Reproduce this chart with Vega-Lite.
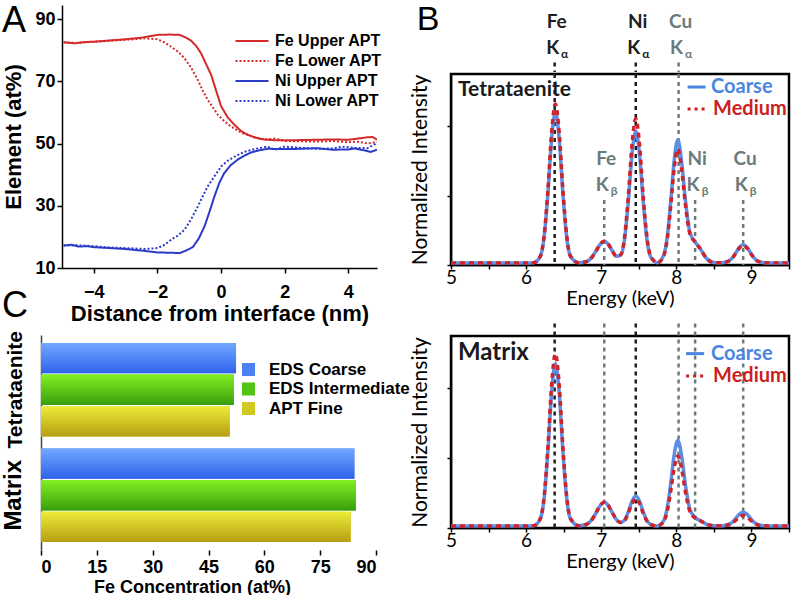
{
  "$schema": "https://vega.github.io/schema/vega-lite/v6.json",
  "padding": {"left": 0, "top": 3, "right": 0, "bottom": 0},
  "background": "white",
  "config": {
    "view": {"stroke": null},
    "axis": {"grid": false, "domainColor": "black", "domainWidth": 1.5, "tickColor": "black", "tickWidth": 1.5, "labelColor": "black", "labelFont": "Liberation Sans", "labelFontSize": 18, "labelFontWeight": "bold", "titleFont": "Liberation Sans", "titleFontSize": 22, "titleFontWeight": "bold", "titleColor": "black"},
    "legend": {"padding": 0}
  },
  "datasets": {
    "apt": [
      {"s": "Fe Upper APT", "x": -4.95, "v": 82.5}, {"s": "Fe Upper APT", "x": -4.6, "v": 82.2}, {"s": "Fe Upper APT", "x": -4.3, "v": 82.6}, {"s": "Fe Upper APT", "x": -4, "v": 82.7}, {"s": "Fe Upper APT", "x": -3.5, "v": 83.1}, {"s": "Fe Upper APT", "x": -3, "v": 83.5}, {"s": "Fe Upper APT", "x": -2.5, "v": 84.0}, {"s": "Fe Upper APT", "x": -2, "v": 84.9}, {"s": "Fe Upper APT", "x": -1.6, "v": 85.0}, {"s": "Fe Upper APT", "x": -1.3, "v": 84.9}, {"s": "Fe Upper APT", "x": -1.1, "v": 84.0}, {"s": "Fe Upper APT", "x": -0.94, "v": 83.0}, {"s": "Fe Upper APT", "x": -0.78, "v": 81.3}, {"s": "Fe Upper APT", "x": -0.63, "v": 79.0}, {"s": "Fe Upper APT", "x": -0.47, "v": 75.5}, {"s": "Fe Upper APT", "x": -0.31, "v": 72.0}, {"s": "Fe Upper APT", "x": -0.15, "v": 66.8}, {"s": "Fe Upper APT", "x": 0, "v": 62.0}, {"s": "Fe Upper APT", "x": 0.2, "v": 58.5}, {"s": "Fe Upper APT", "x": 0.42, "v": 56.0}, {"s": "Fe Upper APT", "x": 0.63, "v": 54.0}, {"s": "Fe Upper APT", "x": 0.84, "v": 52.8}, {"s": "Fe Upper APT", "x": 1.05, "v": 52.0}, {"s": "Fe Upper APT", "x": 1.26, "v": 51.4}, {"s": "Fe Upper APT", "x": 1.6, "v": 51.1}, {"s": "Fe Upper APT", "x": 2, "v": 51.0}, {"s": "Fe Upper APT", "x": 2.5, "v": 51.1}, {"s": "Fe Upper APT", "x": 3, "v": 51.2}, {"s": "Fe Upper APT", "x": 3.5, "v": 51.3}, {"s": "Fe Upper APT", "x": 4, "v": 51.2}, {"s": "Fe Upper APT", "x": 4.3, "v": 51.6}, {"s": "Fe Upper APT", "x": 4.6, "v": 52.0}, {"s": "Fe Upper APT", "x": 4.75, "v": 52.1}, {"s": "Fe Upper APT", "x": 4.9, "v": 51.3},
      {"s": "Fe Lower APT", "x": -4.95, "v": 82.5}, {"s": "Fe Lower APT", "x": -4.5, "v": 82.3}, {"s": "Fe Lower APT", "x": -4, "v": 82.7}, {"s": "Fe Lower APT", "x": -3.5, "v": 83.0}, {"s": "Fe Lower APT", "x": -3, "v": 83.3}, {"s": "Fe Lower APT", "x": -2.4, "v": 83.8}, {"s": "Fe Lower APT", "x": -2, "v": 83.5}, {"s": "Fe Lower APT", "x": -1.8, "v": 82.6}, {"s": "Fe Lower APT", "x": -1.57, "v": 81.1}, {"s": "Fe Lower APT", "x": -1.35, "v": 79.5}, {"s": "Fe Lower APT", "x": -1.15, "v": 77.4}, {"s": "Fe Lower APT", "x": -0.95, "v": 74.5}, {"s": "Fe Lower APT", "x": -0.73, "v": 70.4}, {"s": "Fe Lower APT", "x": -0.58, "v": 67.0}, {"s": "Fe Lower APT", "x": -0.42, "v": 64.0}, {"s": "Fe Lower APT", "x": -0.25, "v": 61.5}, {"s": "Fe Lower APT", "x": -0.1, "v": 59.2}, {"s": "Fe Lower APT", "x": 0.1, "v": 57.2}, {"s": "Fe Lower APT", "x": 0.31, "v": 55.5}, {"s": "Fe Lower APT", "x": 0.63, "v": 53.5}, {"s": "Fe Lower APT", "x": 1.05, "v": 52.0}, {"s": "Fe Lower APT", "x": 1.4, "v": 51.3}, {"s": "Fe Lower APT", "x": 1.7, "v": 51.6}, {"s": "Fe Lower APT", "x": 2, "v": 50.8}, {"s": "Fe Lower APT", "x": 2.5, "v": 50.7}, {"s": "Fe Lower APT", "x": 3, "v": 50.6}, {"s": "Fe Lower APT", "x": 3.5, "v": 50.8}, {"s": "Fe Lower APT", "x": 4, "v": 50.4}, {"s": "Fe Lower APT", "x": 4.3, "v": 50.6}, {"s": "Fe Lower APT", "x": 4.6, "v": 50.0}, {"s": "Fe Lower APT", "x": 4.9, "v": 50.5},
      {"s": "Ni Upper APT", "x": -4.95, "v": 17.2}, {"s": "Ni Upper APT", "x": -4.7, "v": 17.5}, {"s": "Ni Upper APT", "x": -4.5, "v": 16.9}, {"s": "Ni Upper APT", "x": -4.2, "v": 17.0}, {"s": "Ni Upper APT", "x": -4, "v": 16.7}, {"s": "Ni Upper APT", "x": -3.5, "v": 16.4}, {"s": "Ni Upper APT", "x": -3, "v": 16.1}, {"s": "Ni Upper APT", "x": -2.5, "v": 15.6}, {"s": "Ni Upper APT", "x": -2, "v": 15.0}, {"s": "Ni Upper APT", "x": -1.6, "v": 14.9}, {"s": "Ni Upper APT", "x": -1.3, "v": 14.8}, {"s": "Ni Upper APT", "x": -1.1, "v": 15.6}, {"s": "Ni Upper APT", "x": -0.89, "v": 16.7}, {"s": "Ni Upper APT", "x": -0.7, "v": 19.5}, {"s": "Ni Upper APT", "x": -0.52, "v": 23.4}, {"s": "Ni Upper APT", "x": -0.36, "v": 28.2}, {"s": "Ni Upper APT", "x": -0.21, "v": 33.0}, {"s": "Ni Upper APT", "x": -0.05, "v": 37.5}, {"s": "Ni Upper APT", "x": 0.1, "v": 40.5}, {"s": "Ni Upper APT", "x": 0.3, "v": 43.0}, {"s": "Ni Upper APT", "x": 0.52, "v": 44.8}, {"s": "Ni Upper APT", "x": 0.73, "v": 46.1}, {"s": "Ni Upper APT", "x": 0.94, "v": 47.1}, {"s": "Ni Upper APT", "x": 1.2, "v": 47.8}, {"s": "Ni Upper APT", "x": 1.46, "v": 48.3}, {"s": "Ni Upper APT", "x": 2, "v": 48.2}, {"s": "Ni Upper APT", "x": 2.5, "v": 48.3}, {"s": "Ni Upper APT", "x": 3, "v": 48.5}, {"s": "Ni Upper APT", "x": 3.5, "v": 48.0}, {"s": "Ni Upper APT", "x": 4, "v": 48.1}, {"s": "Ni Upper APT", "x": 4.2, "v": 48.4}, {"s": "Ni Upper APT", "x": 4.5, "v": 47.8}, {"s": "Ni Upper APT", "x": 4.7, "v": 47.3}, {"s": "Ni Upper APT", "x": 4.9, "v": 48.0},
      {"s": "Ni Lower APT", "x": -4.95, "v": 17.2}, {"s": "Ni Lower APT", "x": -4.5, "v": 17.3}, {"s": "Ni Lower APT", "x": -4, "v": 17.0}, {"s": "Ni Lower APT", "x": -3.5, "v": 16.6}, {"s": "Ni Lower APT", "x": -3, "v": 16.4}, {"s": "Ni Lower APT", "x": -2.4, "v": 16.1}, {"s": "Ni Lower APT", "x": -2, "v": 16.4}, {"s": "Ni Lower APT", "x": -1.8, "v": 17.3}, {"s": "Ni Lower APT", "x": -1.57, "v": 19.1}, {"s": "Ni Lower APT", "x": -1.35, "v": 20.5}, {"s": "Ni Lower APT", "x": -1.15, "v": 22.3}, {"s": "Ni Lower APT", "x": -0.95, "v": 25.5}, {"s": "Ni Lower APT", "x": -0.73, "v": 29.8}, {"s": "Ni Lower APT", "x": -0.58, "v": 33.0}, {"s": "Ni Lower APT", "x": -0.42, "v": 36.2}, {"s": "Ni Lower APT", "x": -0.2, "v": 39.6}, {"s": "Ni Lower APT", "x": 0, "v": 42.6}, {"s": "Ni Lower APT", "x": 0.2, "v": 44.4}, {"s": "Ni Lower APT", "x": 0.42, "v": 45.8}, {"s": "Ni Lower APT", "x": 0.75, "v": 47.4}, {"s": "Ni Lower APT", "x": 1.1, "v": 48.3}, {"s": "Ni Lower APT", "x": 1.45, "v": 49.0}, {"s": "Ni Lower APT", "x": 1.7, "v": 48.0}, {"s": "Ni Lower APT", "x": 2, "v": 49.0}, {"s": "Ni Lower APT", "x": 2.5, "v": 48.6}, {"s": "Ni Lower APT", "x": 3, "v": 48.3}, {"s": "Ni Lower APT", "x": 3.5, "v": 48.4}, {"s": "Ni Lower APT", "x": 3.8, "v": 49.0}, {"s": "Ni Lower APT", "x": 4.2, "v": 48.6}, {"s": "Ni Lower APT", "x": 4.6, "v": 48.5}, {"s": "Ni Lower APT", "x": 4.9, "v": 50.1}
    ],
    "bars": [
      {"g": "Tetrataenite", "s": "EDS Coarse", "v": 52.4},
      {"g": "Tetrataenite", "s": "EDS Intermediate", "v": 51.8},
      {"g": "Tetrataenite", "s": "APT Fine", "v": 50.7},
      {"g": "Matrix", "s": "EDS Coarse", "v": 84.2},
      {"g": "Matrix", "s": "EDS Intermediate", "v": 84.6},
      {"g": "Matrix", "s": "APT Fine", "v": 83.2}
    ],
    "spec": [
      {"e": 5.0, "tc": 0.012, "tm": 0.012, "mc": 0.012, "mm": 0.012},
      {"e": 5.5, "tc": 0.012, "tm": 0.012, "mc": 0.012, "mm": 0.012},
      {"e": 6.0, "tc": 0.012, "tm": 0.012, "mc": 0.012, "mm": 0.012},
      {"e": 6.1, "tc": 0.013, "tm": 0.013, "mc": 0.013, "mm": 0.013},
      {"e": 6.19, "tc": 0.050, "tm": 0.052, "mc": 0.053, "mm": 0.055},
      {"e": 6.24, "tc": 0.162, "tm": 0.169, "mc": 0.172, "mm": 0.181},
      {"e": 6.29, "tc": 0.410, "tm": 0.431, "mc": 0.438, "mm": 0.463},
      {"e": 6.34, "tc": 0.728, "tm": 0.765, "mc": 0.777, "mm": 0.823},
      {"e": 6.39, "tc": 0.882, "tm": 0.927, "mc": 0.942, "mm": 0.997},
      {"e": 6.44, "tc": 0.728, "tm": 0.765, "mc": 0.777, "mm": 0.823},
      {"e": 6.49, "tc": 0.410, "tm": 0.431, "mc": 0.438, "mm": 0.463},
      {"e": 6.54, "tc": 0.162, "tm": 0.169, "mc": 0.172, "mm": 0.181},
      {"e": 6.59, "tc": 0.050, "tm": 0.052, "mc": 0.053, "mm": 0.055},
      {"e": 6.7, "tc": 0.013, "tm": 0.013, "mc": 0.013, "mm": 0.013},
      {"e": 6.8, "tc": 0.019, "tm": 0.019, "mc": 0.020, "mm": 0.020},
      {"e": 6.88, "tc": 0.047, "tm": 0.047, "mc": 0.050, "mm": 0.050},
      {"e": 6.93, "tc": 0.080, "tm": 0.080, "mc": 0.086, "mm": 0.086},
      {"e": 6.98, "tc": 0.116, "tm": 0.116, "mc": 0.125, "mm": 0.125},
      {"e": 7.04, "tc": 0.137, "tm": 0.137, "mc": 0.147, "mm": 0.147},
      {"e": 7.09, "tc": 0.122, "tm": 0.122, "mc": 0.131, "mm": 0.131},
      {"e": 7.14, "tc": 0.088, "tm": 0.088, "mc": 0.094, "mm": 0.094},
      {"e": 7.2, "tc": 0.051, "tm": 0.051, "mc": 0.050, "mm": 0.050},
      {"e": 7.26, "tc": 0.057, "tm": 0.060, "mc": 0.032, "mm": 0.031},
      {"e": 7.31, "tc": 0.146, "tm": 0.158, "mc": 0.045, "mm": 0.042},
      {"e": 7.36, "tc": 0.361, "tm": 0.393, "mc": 0.092, "mm": 0.084},
      {"e": 7.41, "tc": 0.637, "tm": 0.695, "mc": 0.154, "mm": 0.140},
      {"e": 7.46, "tc": 0.772, "tm": 0.842, "mc": 0.184, "mm": 0.167},
      {"e": 7.51, "tc": 0.637, "tm": 0.695, "mc": 0.154, "mm": 0.140},
      {"e": 7.56, "tc": 0.360, "tm": 0.392, "mc": 0.091, "mm": 0.083},
      {"e": 7.61, "tc": 0.143, "tm": 0.155, "mc": 0.042, "mm": 0.039},
      {"e": 7.66, "tc": 0.045, "tm": 0.049, "mc": 0.020, "mm": 0.019},
      {"e": 7.75, "tc": 0.013, "tm": 0.013, "mc": 0.012, "mm": 0.012},
      {"e": 7.83, "tc": 0.055, "tm": 0.051, "mc": 0.041, "mm": 0.036},
      {"e": 7.88, "tc": 0.165, "tm": 0.153, "mc": 0.118, "mm": 0.098},
      {"e": 7.93, "tc": 0.389, "tm": 0.360, "mc": 0.272, "mm": 0.224},
      {"e": 7.97, "tc": 0.596, "tm": 0.551, "mc": 0.415, "mm": 0.341},
      {"e": 8.02, "tc": 0.722, "tm": 0.667, "mc": 0.502, "mm": 0.412},
      {"e": 8.07, "tc": 0.596, "tm": 0.551, "mc": 0.415, "mm": 0.341},
      {"e": 8.12, "tc": 0.376, "tm": 0.351, "mc": 0.250, "mm": 0.209},
      {"e": 8.18, "tc": 0.189, "tm": 0.182, "mc": 0.108, "mm": 0.096},
      {"e": 8.25, "tc": 0.133, "tm": 0.133, "mc": 0.060, "mm": 0.058},
      {"e": 8.32, "tc": 0.093, "tm": 0.093, "mc": 0.042, "mm": 0.042},
      {"e": 8.4, "tc": 0.039, "tm": 0.039, "mc": 0.022, "mm": 0.022},
      {"e": 8.5, "tc": 0.014, "tm": 0.014, "mc": 0.013, "mm": 0.013},
      {"e": 8.6, "tc": 0.013, "tm": 0.013, "mc": 0.012, "mm": 0.012},
      {"e": 8.69, "tc": 0.021, "tm": 0.021, "mc": 0.019, "mm": 0.017},
      {"e": 8.74, "tc": 0.038, "tm": 0.037, "mc": 0.031, "mm": 0.027},
      {"e": 8.79, "tc": 0.069, "tm": 0.066, "mc": 0.054, "mm": 0.044},
      {"e": 8.84, "tc": 0.102, "tm": 0.098, "mc": 0.079, "mm": 0.063},
      {"e": 8.89, "tc": 0.117, "tm": 0.112, "mc": 0.090, "mm": 0.072},
      {"e": 8.94, "tc": 0.102, "tm": 0.098, "mc": 0.079, "mm": 0.063},
      {"e": 8.99, "tc": 0.069, "tm": 0.066, "mc": 0.054, "mm": 0.044},
      {"e": 9.04, "tc": 0.038, "tm": 0.037, "mc": 0.031, "mm": 0.027},
      {"e": 9.1, "tc": 0.019, "tm": 0.019, "mc": 0.017, "mm": 0.016},
      {"e": 9.2, "tc": 0.012, "tm": 0.012, "mc": 0.012, "mm": 0.012},
      {"e": 9.5, "tc": 0.012, "tm": 0.012, "mc": 0.012, "mm": 0.012}
    ],
    "klines": [
      {"e": 6.38, "el": "Fe", "sub": "α", "c": "k"},
      {"e": 7.46, "el": "Ni", "sub": "α", "c": "k"},
      {"e": 8.03, "el": "Cu", "sub": "α", "c": "g"},
      {"e": 7.04, "el": "Fe", "sub": "β", "c": "g"},
      {"e": 8.25, "el": "Ni", "sub": "β", "c": "g"},
      {"e": 8.89, "el": "Cu", "sub": "β", "c": "g"}
    ]
  },
  "resolve": {"scale": {"color": "independent", "strokeDash": "independent"}, "legend": {"color": "independent", "strokeDash": "independent"}},
  "spacing": -2,
  "hconcat": [
    {
      "spacing": 6,
      "resolve": {"scale": {"color": "independent", "strokeDash": "independent"}, "legend": {"color": "independent", "strokeDash": "independent"}},
      "vconcat": [
        {
          "spacing": 0,
          "hconcat": [
            {"width": 2, "height": 1, "data": {"values": []}, "mark": "point", "encoding": {}},
            {
              "width": 315,
              "height": 263,
              "layer": [
                {
                  "data": {"name": "apt"},
                  "mark": {"type": "line", "strokeWidth": 2, "clip": true},
                  "encoding": {
                    "x": {"field": "x", "type": "quantitative", "scale": {"domain": [-5, 4.9], "nice": false, "zero": false}, "title": "Distance from interface (nm)",
                      "axis": {"values": [-4, -2, 0, 2, 4], "tickSize": 5, "labelPadding": 10, "titlePadding": 2}},
                    "y": {"field": "v", "type": "quantitative", "scale": {"domain": [10, 94.5], "nice": false, "zero": false}, "title": "Element (at%)",
                      "axis": {"values": [10, 20, 30, 40, 50, 60, 70, 80, 90], "tickSize": 5, "labelPadding": 2, "titlePadding": 9}},
                    "color": {"field": "s", "type": "nominal",
                      "scale": {"domain": ["Fe Upper APT", "Fe Lower APT", "Ni Upper APT", "Ni Lower APT"], "range": ["#d42a2a", "#d42a2a", "#2a3bc8", "#2a3bc8"]},
                      "legend": {"title": null, "orient": "none", "legendX": 244, "legendY": 28, "symbolType": "M-3,0H3", "symbolSize": 121, "symbolStrokeWidth": 2, "labelFont": "Liberation Sans", "labelFontSize": 16, "labelFontWeight": "bold", "labelColor": "black", "labelOffset": 15, "rowPadding": 4}},
                    "strokeDash": {"field": "s", "type": "nominal",
                      "scale": {"domain": ["Fe Upper APT", "Fe Lower APT", "Ni Upper APT", "Ni Lower APT"], "range": [[1, 0], [2, 2], [1, 0], [2, 2]]},
                      "legend": {"title": null, "orient": "none", "legendX": 244, "legendY": 28, "symbolType": "M-3,0H3", "symbolSize": 121, "symbolStrokeWidth": 2, "labelFont": "Liberation Sans", "labelFontSize": 16, "labelFontWeight": "bold", "labelColor": "black", "labelOffset": 15, "rowPadding": 4}}
                  }
                },
                {
                  "data": {"values": [{"x": -6.508, "v": 89.2, "t": "A"}, {"x": -6.477, "v": -2.2, "t": "C"}]},
                  "mark": {"type": "text", "fontSize": 36, "font": "Liberation Sans", "color": "black", "clip": false},
                  "encoding": {
                    "x": {"field": "x", "type": "quantitative", "scale": {"domain": [-5, 4.9], "nice": false, "zero": false}, "title": "Distance from interface (nm)"},
                    "y": {"field": "v", "type": "quantitative", "scale": {"domain": [10, 94.5], "nice": false, "zero": false}, "title": "Element (at%)"},
                    "text": {"field": "t"}
                  }
                }
              ]
            }
          ]
        },
        {
          "spacing": 0,
          "hconcat": [
            {"width": 1, "height": 1, "data": {"values": []}, "mark": "point", "encoding": {}},
            {
              "width": 335,
              "height": 215,
              "data": {"name": "bars"},
              "encoding": {
                "y": {"field": "g", "type": "nominal", "sort": ["Tetrataenite", "Matrix"], "scale": {"paddingInner": 0.113, "paddingOuter": 0.075},
                  "axis": {"title": null, "labelAngle": -90, "labelAlign": "center", "labelBaseline": "bottom", "ticks": false, "labelPadding": 16,
                    "labelFontSize": {"condition": {"test": "datum.value === 'Matrix'", "value": 24}, "value": 21}, "domainColor": "#444", "domainWidth": 1.5}},
                "yOffset": {"field": "s", "type": "nominal", "sort": ["EDS Coarse", "EDS Intermediate", "APT Fine"], "scale": {"paddingInner": 0.04}},
                "x": {"field": "v", "type": "quantitative", "scale": {"domain": [0, 90], "nice": false}, "title": "Fe Concentration (at%)",
                  "axis": {"values": [0, 15, 30, 45, 60, 75, 90], "domain": false, "tickSize": 5, "labelPadding": 3, "labelFontSize": 18, "titleFontSize": 18, "titlePadding": 2, "titleX": 151, "titleAnchor": "middle"}}
              },
              "layer": [
                {
                  "mark": {"type": "bar"},
                  "encoding": {
                    "color": {"field": "s", "type": "nominal", "sort": ["EDS Coarse", "EDS Intermediate", "APT Fine"],
                      "scale": {"domain": ["EDS Coarse", "EDS Intermediate", "APT Fine"], "range": ["#4a80f0", "#52c414", "#d2c822"]},
                      "legend": {"title": null, "orient": "none", "legendX": 240, "legendY": 26, "symbolType": "square", "symbolSize": 170, "symbolStrokeWidth": 0, "symbolOpacity": 1, "labelFont": "Liberation Sans", "labelFontSize": 17, "labelFontWeight": "bold", "labelColor": "black", "labelOffset": 12, "rowPadding": 1.5}}
                  }
                },
                {
                  "transform": [{"filter": "datum.s === 'EDS Coarse'"}],
                  "mark": {"type": "bar", "color": {"gradient": "linear", "x1": 0, "y1": 0, "x2": 0, "y2": 1, "stops": [{"offset": 0, "color": "#72a8ff"}, {"offset": 1, "color": "#2f62ea"}]}}
                },
                {
                  "transform": [{"filter": "datum.s === 'EDS Intermediate'"}],
                  "mark": {"type": "bar", "color": {"gradient": "linear", "x1": 0, "y1": 0, "x2": 0, "y2": 1, "stops": [{"offset": 0, "color": "#82f024"}, {"offset": 1, "color": "#389e0c"}]}}
                },
                {
                  "transform": [{"filter": "datum.s === 'APT Fine'"}],
                  "mark": {"type": "bar", "color": {"gradient": "linear", "x1": 0, "y1": 0, "x2": 0, "y2": 1, "stops": [{"offset": 0, "color": "#ecec38"}, {"offset": 1, "color": "#b69e12"}]}}
                }
              ]
            }
          ]
        }
      ]
    },
    {
      "spacing": -3,
      "vconcat": [
        {
          "width": 338,
          "height": 67,
          "data": {"name": "klines"},
          "encoding": {
            "x": {"field": "e", "type": "quantitative", "scale": {"domain": [5, 9.5], "nice": false, "zero": false}, "axis": null}
          },
          "layer": [
            {
              "transform": [{"filter": "datum.sub === 'α'"}],
              "mark": {"type": "rule", "strokeDash": [4, 4], "strokeWidth": 2.5},
              "encoding": {
                "y": {"datum": 1.155, "type": "quantitative", "scale": {"domain": [1.1, 1.485], "nice": false, "zero": false}, "axis": null},
                "y2": {"datum": 1.1},
                "color": {"field": "c", "type": "nominal", "scale": {"domain": ["k", "g"], "range": ["#1e1e1e", "#6b7a7a"]}, "legend": null}
              }
            },
            {
              "transform": [{"filter": "datum.sub === 'α'"}],
              "mark": {"type": "text", "font": "Lato", "fontSize": 19, "fontWeight": "bold", "dx": 2},
              "encoding": {
                "y": {"datum": 1.389, "type": "quantitative", "scale": {"domain": [1.1, 1.485], "nice": false, "zero": false}, "axis": null},
                "text": {"field": "el"},
                "color": {"field": "c", "type": "nominal", "scale": {"domain": ["k", "g"], "range": ["#1e1e1e", "#6b7a7a"]}, "legend": null}
              }
            },
            {
              "transform": [{"filter": "datum.sub === 'α'"}],
              "mark": {"type": "text", "text": "K", "font": "Lato", "fontSize": 19, "fontWeight": "bold", "dx": -2},
              "encoding": {
                "y": {"datum": 1.236, "type": "quantitative", "scale": {"domain": [1.1, 1.485], "nice": false, "zero": false}, "axis": null},
                "color": {"field": "c", "type": "nominal", "scale": {"domain": ["k", "g"], "range": ["#1e1e1e", "#6b7a7a"]}, "legend": null}
              }
            },
            {
              "transform": [{"filter": "datum.sub === 'α'"}],
              "mark": {"type": "text", "font": "Lato", "fontSize": 12, "fontWeight": "bold", "dx": 10, "dy": 6},
              "encoding": {
                "y": {"datum": 1.236, "type": "quantitative", "scale": {"domain": [1.1, 1.485], "nice": false, "zero": false}, "axis": null},
                "text": {"field": "sub"},
                "color": {"field": "c", "type": "nominal", "scale": {"domain": ["k", "g"], "range": ["#1e1e1e", "#6b7a7a"]}, "legend": null}
              }
            },
            {
              "data": {"values": [{"e": 4.694, "t": "B"}]},
              "mark": {"type": "text", "font": "Liberation Sans", "fontSize": 34, "color": "black", "clip": false},
              "encoding": {
                "y": {"datum": 1.398, "type": "quantitative", "scale": {"domain": [1.1, 1.485], "nice": false, "zero": false}, "axis": null},
                "text": {"field": "t"}
              }
            }
          ]
        },
        {
          "spacing": 11,
          "vconcat": [
            {
              "width": 338,
              "height": 191,
              "view": {"stroke": "black", "strokeWidth": 2.5},
              "encoding": {
                "x": {"field": "e", "type": "quantitative", "scale": {"domain": [5, 9.5], "nice": false, "zero": false}, "title": "Energy (keV)",
                  "axis": {"values": [5, 5.5, 6, 6.5, 7, 7.5, 8, 8.5, 9, 9.5], "labelExpr": "datum.value % 1 === 0 ? '' + datum.value : ''", "labelFlush": false, "labelOverlap": false, "tickSize": 4, "labelFont": "Lato", "labelFontSize": 19, "labelFontWeight": "normal", "labelPadding": -1, "titleFont": "Lato", "titleFontSize": 20, "titleFontWeight": "normal", "titlePadding": 1}}
              },
              "layer": [
                {
                  "data": {"name": "klines"},
                  "transform": [{"filter": "datum.sub === 'α'"}],
                  "mark": {"type": "rule", "strokeDash": [4, 4], "strokeWidth": 2.5},
                  "encoding": {
                    "y": {"datum": 1.1, "type": "quantitative", "scale": {"domain": [0, 1.1], "nice": false, "zero": false}, "title": "Normalized Intensity",
                      "axis": {"labels": false, "values": [0, 0.1, 0.2, 0.3, 0.4, 0.5, 0.6, 0.7, 0.8, 0.9, 1.0], "tickSize": 4, "titleFont": "Lato", "titleFontSize": 21, "titleFontWeight": "normal", "titlePadding": 16}},
                    "y2": {"datum": 0},
                    "color": {"field": "c", "type": "nominal", "scale": {"domain": ["k", "g"], "range": ["#1e1e1e", "#6b7a7a"]}, "legend": null}
                  }
                },
                {
                  "data": {"name": "klines"},
                  "transform": [{"filter": "datum.sub === 'β'"}],
                  "mark": {"type": "rule", "strokeDash": [4, 4], "strokeWidth": 2.5},
                  "encoding": {
                    "y": {"datum": 0.375, "type": "quantitative", "scale": {"domain": [0, 1.1], "nice": false, "zero": false}, "title": "Normalized Intensity"},
                    "y2": {"datum": 0},
                    "color": {"field": "c", "type": "nominal", "scale": {"domain": ["k", "g"], "range": ["#1e1e1e", "#6b7a7a"]}, "legend": null}
                  }
                },
                {
                  "data": {"name": "spec"},
                  "mark": {"type": "line", "color": "#5b8fe6", "strokeWidth": 3.5, "interpolate": "monotone"},
                  "encoding": {"y": {"field": "tc", "type": "quantitative", "scale": {"domain": [0, 1.1], "nice": false, "zero": false}, "title": "Normalized Intensity"}}
                },
                {
                  "data": {"name": "spec"},
                  "mark": {"type": "line", "color": "#d0232a", "strokeWidth": 3.5, "strokeDash": [5, 4], "interpolate": "monotone"},
                  "encoding": {"y": {"field": "tm", "type": "quantitative", "scale": {"domain": [0, 1.1], "nice": false, "zero": false}, "title": "Normalized Intensity"}}
                },
                {
                  "data": {"name": "klines"},
                  "transform": [{"filter": "datum.sub === 'β'"}],
                  "mark": {"type": "text", "font": "Lato", "fontSize": 19, "fontWeight": "bold", "dx": 2},
                  "encoding": {
                    "y": {"datum": 0.611, "type": "quantitative", "scale": {"domain": [0, 1.1], "nice": false, "zero": false}, "title": "Normalized Intensity"},
                    "text": {"field": "el"},
                    "color": {"field": "c", "type": "nominal", "scale": {"domain": ["k", "g"], "range": ["#1e1e1e", "#6b7a7a"]}, "legend": null}
                  }
                },
                {
                  "data": {"name": "klines"},
                  "transform": [{"filter": "datum.sub === 'β'"}],
                  "mark": {"type": "text", "text": "K", "font": "Lato", "fontSize": 19, "fontWeight": "bold", "dx": -2},
                  "encoding": {
                    "y": {"datum": 0.461, "type": "quantitative", "scale": {"domain": [0, 1.1], "nice": false, "zero": false}, "title": "Normalized Intensity"},
                    "color": {"field": "c", "type": "nominal", "scale": {"domain": ["k", "g"], "range": ["#1e1e1e", "#6b7a7a"]}, "legend": null}
                  }
                },
                {
                  "data": {"name": "klines"},
                  "transform": [{"filter": "datum.sub === 'β'"}],
                  "mark": {"type": "text", "font": "Lato", "fontSize": 12, "fontWeight": "bold", "dx": 10, "dy": 6},
                  "encoding": {
                    "y": {"datum": 0.461, "type": "quantitative", "scale": {"domain": [0, 1.1], "nice": false, "zero": false}, "title": "Normalized Intensity"},
                    "text": {"field": "sub"},
                    "color": {"field": "c", "type": "nominal", "scale": {"domain": ["k", "g"], "range": ["#1e1e1e", "#6b7a7a"]}, "legend": null}
                  }
                },
                {
                  "data": {"values": [{"e": 5.093, "t": "Tetrataenite"}]},
                  "mark": {"type": "text", "font": "Lato", "fontSize": 21, "fontWeight": "bold", "align": "left", "color": "#1a1a1a"},
                  "encoding": {
                    "y": {"datum": 1.007, "type": "quantitative", "scale": {"domain": [0, 1.1], "nice": false, "zero": false}, "title": "Normalized Intensity"},
                    "text": {"field": "t"}
                  }
                },
                {
                  "data": {"values": [{"e": 8.462, "t": "Coarse"}]},
                  "mark": {"type": "text", "font": "Lato", "fontSize": 20, "fontWeight": "bold", "align": "left", "color": "#4a86e0"},
                  "encoding": {
                    "y": {"datum": 1.025, "type": "quantitative", "scale": {"domain": [0, 1.1], "nice": false, "zero": false}, "title": "Normalized Intensity"},
                    "text": {"field": "t"}
                  }
                },
                {
                  "data": {"values": [{"e": 8.489, "t": "Medium"}]},
                  "mark": {"type": "text", "font": "Lato", "fontSize": 20, "fontWeight": "bold", "align": "left", "color": "#cc1f1f"},
                  "encoding": {
                    "y": {"datum": 0.898, "type": "quantitative", "scale": {"domain": [0, 1.1], "nice": false, "zero": false}, "title": "Normalized Intensity"},
                    "text": {"field": "t"}
                  }
                },
                {
                  "data": {"values": [{"e": 8.15, "e2": 8.39}]},
                  "mark": {"type": "rule", "color": "#4a86e0", "strokeWidth": 3},
                  "encoding": {
                    "x2": {"field": "e2"},
                    "y": {"datum": 1.025, "type": "quantitative", "scale": {"domain": [0, 1.1], "nice": false, "zero": false}, "title": "Normalized Intensity"}
                  }
                },
                {
                  "data": {"values": [{"e": 8.15, "e2": 8.39}]},
                  "mark": {"type": "rule", "color": "#cc1f1f", "strokeWidth": 3, "strokeDash": [3, 4]},
                  "encoding": {
                    "x2": {"field": "e2"},
                    "y": {"datum": 0.898, "type": "quantitative", "scale": {"domain": [0, 1.1], "nice": false, "zero": false}, "title": "Normalized Intensity"}
                  }
                }
              ]
            },
            {
              "width": 338,
              "height": 192,
              "view": {"stroke": "black", "strokeWidth": 2.5},
              "encoding": {
                "x": {"field": "e", "type": "quantitative", "scale": {"domain": [5, 9.5], "nice": false, "zero": false}, "title": "Energy (keV)",
                  "axis": {"values": [5, 5.5, 6, 6.5, 7, 7.5, 8, 8.5, 9, 9.5], "labelExpr": "datum.value % 1 === 0 ? '' + datum.value : ''", "labelFlush": false, "labelOverlap": false, "tickSize": 4, "labelFont": "Lato", "labelFontSize": 19, "labelFontWeight": "normal", "labelPadding": -1, "titleFont": "Lato", "titleFontSize": 20, "titleFontWeight": "normal", "titlePadding": 1}}
              },
              "layer": [
                {
                  "data": {"name": "klines"},
                  "mark": {"type": "rule", "strokeDash": [4, 4], "strokeWidth": 2.5, "clip": false},
                  "encoding": {
                    "y": {"datum": 1.171, "type": "quantitative", "scale": {"domain": [0, 1.1], "nice": false, "zero": false}, "title": "Normalized Intensity",
                      "axis": {"labels": false, "values": [0, 0.1, 0.2, 0.3, 0.4, 0.5, 0.6, 0.7, 0.8, 0.9, 1.0], "tickSize": 4, "titleFont": "Lato", "titleFontSize": 21, "titleFontWeight": "normal", "titlePadding": 16}},
                    "y2": {"datum": 0},
                    "color": {"field": "c", "type": "nominal", "scale": {"domain": ["k", "g"], "range": ["#1e1e1e", "#6b7a7a"]}, "legend": null}
                  }
                },
                {
                  "data": {"name": "spec"},
                  "mark": {"type": "line", "color": "#5b8fe6", "strokeWidth": 3.5, "interpolate": "monotone"},
                  "encoding": {"y": {"field": "mc", "type": "quantitative", "scale": {"domain": [0, 1.1], "nice": false, "zero": false}, "title": "Normalized Intensity"}}
                },
                {
                  "data": {"name": "spec"},
                  "mark": {"type": "line", "color": "#d0232a", "strokeWidth": 3.5, "strokeDash": [5, 4], "interpolate": "monotone"},
                  "encoding": {"y": {"field": "mm", "type": "quantitative", "scale": {"domain": [0, 1.1], "nice": false, "zero": false}, "title": "Normalized Intensity"}}
                },
                {
                  "data": {"values": [{"e": 5.093, "t": "Matrix"}]},
                  "mark": {"type": "text", "font": "Lato", "fontSize": 24, "fontWeight": "bold", "align": "left", "color": "#1a1a1a"},
                  "encoding": {
                    "y": {"datum": 1.005, "type": "quantitative", "scale": {"domain": [0, 1.1], "nice": false, "zero": false}, "title": "Normalized Intensity"},
                    "text": {"field": "t"}
                  }
                },
                {
                  "data": {"values": [{"e": 8.462, "t": "Coarse"}]},
                  "mark": {"type": "text", "font": "Lato", "fontSize": 20, "fontWeight": "bold", "align": "left", "color": "#4a86e0"},
                  "encoding": {
                    "y": {"datum": 0.999, "type": "quantitative", "scale": {"domain": [0, 1.1], "nice": false, "zero": false}, "title": "Normalized Intensity"},
                    "text": {"field": "t"}
                  }
                },
                {
                  "data": {"values": [{"e": 8.489, "t": "Medium"}]},
                  "mark": {"type": "text", "font": "Lato", "fontSize": 20, "fontWeight": "bold", "align": "left", "color": "#cc1f1f"},
                  "encoding": {
                    "y": {"datum": 0.871, "type": "quantitative", "scale": {"domain": [0, 1.1], "nice": false, "zero": false}, "title": "Normalized Intensity"},
                    "text": {"field": "t"}
                  }
                },
                {
                  "data": {"values": [{"e": 8.13, "e2": 8.37}]},
                  "mark": {"type": "rule", "color": "#4a86e0", "strokeWidth": 3},
                  "encoding": {
                    "x2": {"field": "e2"},
                    "y": {"datum": 0.999, "type": "quantitative", "scale": {"domain": [0, 1.1], "nice": false, "zero": false}, "title": "Normalized Intensity"}
                  }
                },
                {
                  "data": {"values": [{"e": 8.13, "e2": 8.37}]},
                  "mark": {"type": "rule", "color": "#cc1f1f", "strokeWidth": 3, "strokeDash": [3, 4]},
                  "encoding": {
                    "x2": {"field": "e2"},
                    "y": {"datum": 0.871, "type": "quantitative", "scale": {"domain": [0, 1.1], "nice": false, "zero": false}, "title": "Normalized Intensity"}
                  }
                }
              ]
            }
          ]
        }
      ]
    }
  ]
}
